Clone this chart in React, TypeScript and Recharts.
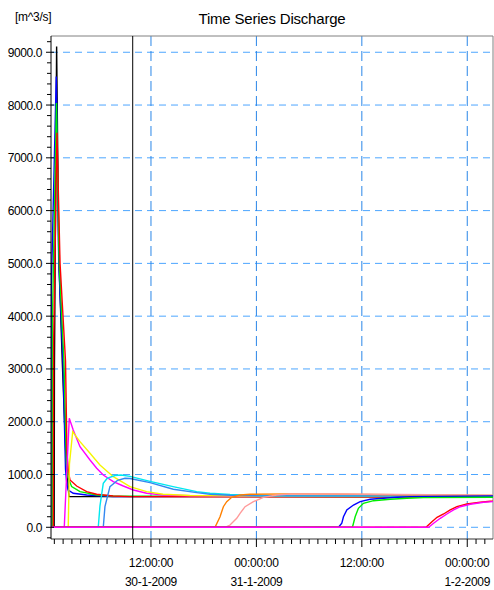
import React from 'react';
import { LineChart, Line, XAxis, YAxis, ReferenceLine, CartesianGrid } from 'recharts';

type Pt = [number, number];

// time axis in hours since 30-1-2009 00:00
const X_MIN = 0.62;
const X_MAX = 50.93;
const Y_MIN = -222;
const Y_MAX = 9308;

const xTickHours = Array.from({ length: 50 }, (_, i) => i + 1);
const xLabelHours = [12, 24, 36, 48];
const xLabelTimes = ['12:00:00', '00:00:00', '12:00:00', '00:00:00'];
const xLabelDates = ['30-1-2009', '31-1-2009', '', '1-2-2009'];
const yTicks = Array.from({ length: 48 }, (_, i) => -200 + i * 200);
const yGrid = [0, 1000, 2000, 3000, 4000, 5000, 6000, 7000, 8000, 9000];
const markerHour = 9.92;

const black1: Pt[] = [[0.6, 0], [0.98, 0], [1.01, 3000], [1.26, 9107], [1.5, 5200], [1.9, 3157], [2.29, 1450], [2.66, 580], [50.93, 580]];
const blue1: Pt[] = [[0.6, 0], [0.62, 0], [0.65, 4500], [1.22, 8540], [1.5, 5000], [1.98, 3157], [2.27, 1100], [2.44, 800], [2.58, 707], [3.15, 644], [4.68, 612], [7.68, 580], [20, 585], [50.93, 590]];
const green1: Pt[] = [[0.6, 0], [0.76, 0], [0.79, 4000], [1.24, 8040], [1.55, 5000], [2.09, 3157], [2.38, 1200], [2.55, 950], [2.97, 770], [3.92, 675], [5.82, 612], [7.68, 593], [50.93, 575]];
const red1: Pt[] = [[0.6, 0], [0.88, 0], [0.92, 3500], [1.3, 7476], [1.65, 5000], [2.27, 3157], [2.44, 1400], [2.61, 1050], [2.78, 896], [3.54, 782], [4.68, 675], [5.82, 625], [7.68, 593], [9.61, 580], [50.93, 575]];
const magenta1: Pt[] = [[0.6, 0], [2.13, 0], [2.4, 1000], [2.7, 2065], [3.15, 1843], [3.92, 1527], [5.06, 1275], [5.82, 1118], [6.57, 991], [7.71, 864], [8.85, 782], [9.99, 707], [11.51, 644], [13.37, 612], [16.45, 597], [23.28, 588], [50.93, 585]];
const yellow1: Pt[] = [[0.6, 0], [2.58, 0], [2.72, 1200], [3.09, 1812], [3.35, 1750], [3.92, 1622], [5.06, 1402], [6.19, 1180], [7.71, 959], [9.61, 770], [11.51, 675], [13.37, 625], [16.45, 603], [23.28, 592], [50.93, 588]];
const cyan1: Pt[] = [[0.6, 0], [6.0, 0], [6.19, 400], [6.57, 833], [7.0, 925], [7.9, 980], [8.6, 990], [9.61, 965], [11.89, 870], [14.51, 770], [17.2, 675], [18.72, 645], [21, 620], [24, 603], [28, 595], [50.93, 592]];
const dodger1: Pt[] = [[0.6, 0], [6.57, 0], [6.76, 390], [7.33, 770], [8.2, 890], [9.04, 928], [9.61, 925], [11.89, 845], [14.54, 720], [17.21, 656], [18.72, 625], [21, 607], [24.4, 595], [50.93, 590]];
const orange1: Pt[] = [[0.6, 0], [19.29, 0], [19.86, 200], [20.24, 390], [20.62, 485], [21.19, 568], [22.14, 612], [23.28, 625], [28, 632], [33, 628], [40, 615], [50.93, 605]];
const salmon1: Pt[] = [[0.6, 0], [20.43, 0], [21.0, 43], [21.76, 170], [22.14, 265], [22.71, 390], [23.66, 485], [24.79, 568], [26.32, 612], [27.84, 631], [33, 632], [40, 620], [50.93, 610]];
const blue2: Pt[] = [[0.6, 0], [33.34, 0], [33.72, 76], [33.91, 200], [34.29, 328], [35.05, 422], [35.81, 485], [36.95, 530], [38.47, 549], [39.99, 568], [41.51, 580], [50.93, 593]];
const green2: Pt[] = [[0.6, 0], [34.93, 0], [35.24, 200], [35.61, 360], [36.18, 455], [37.33, 504], [39.23, 530], [41.13, 549], [43.02, 561], [50.93, 568]];
const red2: Pt[] = [[0.6, 0], [43.3, 0], [43.98, 106], [44.56, 189], [45.31, 252], [46.06, 328], [46.82, 390], [47.96, 441], [49.48, 473], [50.62, 492], [50.93, 495]];
const magenta2: Pt[] = [[0.6, 0], [43.6, 0], [44.17, 76], [44.93, 170], [45.68, 252], [46.44, 328], [47.2, 390], [48.34, 436], [49.86, 473], [50.93, 487]];

const seriesList: { id: string; color: string; pts: Pt[] }[] = [
  { id: 'black1', color: '#000000', pts: black1 },
  { id: 'blue1', color: '#0000ff', pts: blue1 },
  { id: 'green1', color: '#00ee00', pts: green1 },
  { id: 'red1', color: '#ff0000', pts: red1 },
  { id: 'magenta1', color: '#ff00ff', pts: magenta1 },
  { id: 'yellow1', color: '#f5f500', pts: yellow1 },
  { id: 'cyan1', color: '#00e8f0', pts: cyan1 },
  { id: 'dodger1', color: '#3388f0', pts: dodger1 },
  { id: 'orange1', color: '#ff8000', pts: orange1 },
  { id: 'salmon1', color: '#ff9a9a', pts: salmon1 },
  { id: 'blue2', color: '#0000ff', pts: blue2 },
  { id: 'green2', color: '#00ee00', pts: green2 },
  { id: 'red2', color: '#ff0000', pts: red2 },
  { id: 'magenta2', color: '#ff00ff', pts: magenta2 },
];

const FONT = '"Liberation Sans", Arial, sans-serif';

const XTick = (props: any) => {
  const { x, y, payload } = props;
  const h = payload.value;
  const idx = xLabelHours.indexOf(h);
  const major = idx >= 0;
  return (
    <g>
      <line x1={x} x2={x} y1={y} y2={y + (major ? 8 : 5)} stroke="#000" strokeWidth={1} />
      {major && (
        <text x={x} y={y + 28} textAnchor="middle" fontSize={12} fontFamily={FONT} fill="#000" letterSpacing="-0.3">
          {xLabelTimes[idx]}
        </text>
      )}
      {major && xLabelDates[idx] && (
        <text x={x} y={y + 47} textAnchor="middle" fontSize={12} fontFamily={FONT} fill="#000" letterSpacing="-0.3">
          {xLabelDates[idx]}
        </text>
      )}
    </g>
  );
};

const YTick = (props: any) => {
  const { x, y, payload } = props;
  const v = payload.value;
  const major = v >= 0 && v % 1000 === 0;
  return (
    <g>
      <line x1={major ? x - 5 : x - 4} x2={major ? x + 3 : x} y1={y} y2={y} stroke="#000" strokeWidth={1} />
      {major && (
        <text x={x - 9} y={y + 4.5} textAnchor="end" fontSize={12} fontFamily={FONT} fill="#000" letterSpacing="-0.4">
          {v.toFixed(1)}
        </text>
      )}
    </g>
  );
};

export default function App() {
  return (
    <div style={{ position: 'absolute', left: 0, top: 0, width: 494, height: 590, background: '#fff' }}>
      <div style={{ position: 'absolute', left: 0, width: 544, top: 10, textAlign: 'center', fontFamily: FONT, fontSize: 15, color: '#000', letterSpacing: '-0.2px' }}>
        Time Series Discharge
      </div>
      <div style={{ position: 'absolute', left: 15, top: 10, fontFamily: FONT, fontSize: 12, color: '#000', letterSpacing: '-0.3px' }}>
        [m^3/s]
      </div>
      <LineChart width={494} height={590} margin={{ top: 36, right: 1, bottom: 0, left: 0 }}>
        <CartesianGrid horizontal={true} vertical={false} horizontalValues={yGrid} stroke="#4da6ff" strokeDasharray="7 5" />
        <CartesianGrid horizontal={false} vertical={true} verticalValues={xLabelHours} stroke="#2a86e8" strokeDasharray="10 5" />
        <XAxis
          type="number"
          dataKey="t"
          domain={[X_MIN, X_MAX]}
          allowDataOverflow
          ticks={xTickHours}
          interval={0}
          tick={<XTick />}
          tickLine={false}
          tickSize={0}
          tickMargin={0}
          height={51}
          axisLine={{ stroke: '#333' }}
        />
        <YAxis
          type="number"
          dataKey="v"
          domain={[Y_MIN, Y_MAX]}
          allowDataOverflow
          ticks={yTicks}
          interval={0}
          tick={<YTick />}
          tickLine={false}
          tickSize={0}
          tickMargin={0}
          width={51}
          axisLine={{ stroke: '#000' }}
        />
        <ReferenceLine y={Y_MAX} stroke="#808080" />
        <ReferenceLine x={X_MAX} stroke="#808080" />
        {seriesList.map((s) => (
          <Line
            key={s.id}
            data={s.pts.map(([t, v]) => ({ t, v }))}
            dataKey="v"
            type="linear"
            stroke={s.color}
            strokeWidth={1.4}
            dot={false}
            activeDot={false}
            isAnimationActive={false}
          />
        ))}
        <ReferenceLine x={markerHour} stroke="#000" strokeWidth={1} />
      </LineChart>
    </div>
  );
}
